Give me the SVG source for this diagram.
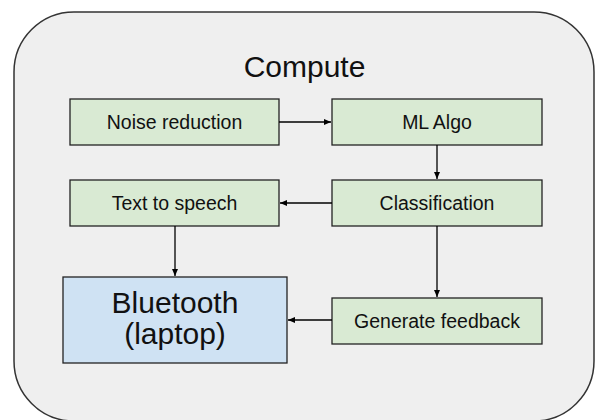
<svg xmlns="http://www.w3.org/2000/svg" width="595" height="420" viewBox="0 0 595 420">
<defs>
<marker id="ah" markerWidth="8" markerHeight="8" refX="7" refY="4" orient="auto" markerUnits="userSpaceOnUse">
<path d="M0,1 L7,4 L0,7 Z" fill="#000"/>
</marker>
<style>
.box{stroke:#222;stroke-width:1.3}
.g{fill:#d9ead3}
.b{fill:#cfe2f3}
.t{font-family:"Liberation Sans",Arial,sans-serif;fill:#111;text-anchor:middle}
.lbl{font-size:19.5px}
.big{font-size:30px}
.con{stroke:#000;stroke-width:1.3;fill:none;marker-end:url(#ah)}
</style>
</defs>
<rect width="595" height="420" fill="#fff"/>
<g id="compute">
<rect x="14" y="12" width="580" height="409" rx="60" ry="60" fill="#efefef" stroke="#333" stroke-width="1.5"/>
<text class="t big" x="304.5" y="77">Compute</text>
</g>
<g id="noise">
<rect class="box g" x="70" y="99" width="209" height="46"/>
<text class="t lbl" x="174.5" y="129">Noise reduction</text>
</g>
<g id="ml">
<rect class="box g" x="332" y="99" width="210" height="46"/>
<text class="t lbl" x="437" y="129">ML Algo</text>
</g>
<g id="tts">
<rect class="box g" x="70" y="180" width="209" height="46"/>
<text class="t lbl" x="174.5" y="210">Text to speech</text>
</g>
<g id="classification">
<rect class="box g" x="332" y="180" width="210" height="46"/>
<text class="t lbl" x="437" y="210">Classification</text>
</g>
<g id="bluetooth">
<rect class="box b" x="63" y="277" width="224" height="86"/>
<text class="t big" x="175" y="313">Bluetooth</text>
<text class="t big" x="175" y="344">(laptop)</text>
</g>
<g id="feedback">
<rect class="box g" x="332" y="298" width="210" height="46"/>
<text class="t lbl" x="437" y="328">Generate feedback</text>
</g>
<g id="connectors">
<line class="con" x1="279" y1="122" x2="331" y2="122"/>
<line class="con" x1="437" y1="145" x2="437" y2="179"/>
<line class="con" x1="332" y1="203" x2="280" y2="203"/>
<line class="con" x1="175" y1="226" x2="175" y2="276"/>
<line class="con" x1="437" y1="226" x2="437" y2="297"/>
<line class="con" x1="332" y1="320" x2="288" y2="320"/>
</g>
</svg>
